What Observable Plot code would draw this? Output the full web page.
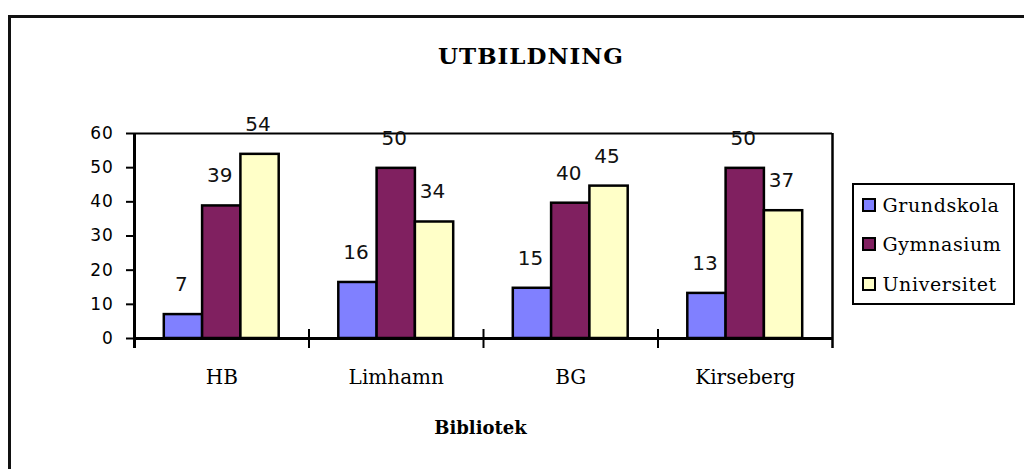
<!DOCTYPE html>
<html><head><meta charset="utf-8">
<script src="https://cdn.jsdelivr.net/npm/d3@7"></script>
<script src="https://cdn.jsdelivr.net/npm/@observablehq/plot@0.6"></script>
<style>
html,body{margin:0;padding:0;background:#fff;overflow:hidden;width:1024px;height:469px}
#wrap{position:relative;width:1024px;height:469px;overflow:hidden}
#border{position:absolute;left:8px;top:15px;width:1100px;height:600px;border-left:3px solid #111;border-top:3px solid #111;box-sizing:border-box}
#chart{position:absolute;left:0;top:0}
#title{position:absolute;left:438px;top:44px;white-space:nowrap;font:bold 23px "DejaVu Serif";letter-spacing:1px;line-height:23px;color:#000}
#legend{position:absolute;left:852px;top:183px;width:163px;height:122px;border:2.5px solid #000;box-sizing:border-box;background:#fff}
.item{position:absolute;left:7.5px;height:14px;display:flex;align-items:center;font:19px "DejaVu Serif";letter-spacing:0.6px;color:#000;white-space:nowrap}
.sw{width:14px;height:14px;border:2px solid #000;box-sizing:border-box;margin-right:7px;flex:none}
g[aria-label="y-axis tick label"] text{letter-spacing:0.8px}
g[aria-label="y-axis tick"] path, g[aria-label="y-axis"] line{stroke-width:2px}
</style>
</head><body>
<div id="wrap">
  <div id="border"></div>
  <div id="chart"></div>
  <div id="title"></div>
  <div id="legend"></div>
</div>
<script>
// ---- data ----
const titleText = "UTBILDNING";
const xTitle = "Bibliotek";
const categories = ["HB", "Limhamn", "BG", "Kirseberg"];
const series = ["Grundskola", "Gymnasium", "Universitet"];
const colors = ["#8080FF", "#802060", "#FFFFC8"];
const grundskola = [7, 16.4, 14.7, 13.2];
const gymnasium = [38.8, 49.8, 39.6, 49.8];
const universitet = [53.9, 34.1, 44.6, 37.4];
const yTicks = [0, 10, 20, 30, 40, 50, 60];

const valuesBySeries = [grundskola, gymnasium, universitet];
const rows = categories.flatMap((c, ci) =>
  series.map((s, si) => ({category: c, series: s, value: valuesBySeries[si][ci]})));

// ---- layout ----
const W = 1024, H = 469, mL = 134, mR = 192, mT = 133, mB = 131;
const bandW = (W - mL - mR) / categories.length;
const barW = 38.3;
const groupPad = (bandW - barW * series.length) / 2;

const marks = [];
series.forEach((s, si) => {
  const left = groupPad + si * barW;
  marks.push(Plot.barY(rows.filter(d => d.series === s), {
    x: "category", y: "value", fill: colors[si], stroke: "#000", strokeWidth: 2.5,
    insetLeft: left, insetRight: bandW - left - barW
  }));
});
marks.push(Plot.ruleY([60], {y: d => d, strokeWidth: 2}));
marks.push(Plot.ruleY([0], {y: d => d, strokeWidth: 3}));
marks.push(Plot.ruleX([categories[0]], {x: d => d, dx: -bandW / 2, y1: () => 60, y2: () => 0, insetBottom: -10, strokeWidth: 3}));
marks.push(Plot.ruleX([categories[categories.length - 1]], {x: d => d, dx: bandW / 2, y1: () => 60, y2: () => 0, insetBottom: -10, strokeWidth: 2.5}));
marks.push(Plot.ruleX(categories.slice(1), {x: d => d, dx: -bandW / 2, y1: () => 0, y2: () => 0, insetTop: -9, insetBottom: -10, strokeWidth: 2}));
series.forEach((s, si) => {
  marks.push(Plot.text(rows.filter(d => d.series === s), {
    x: "category", y: "value", text: d => String(Math.round(d.value)),
    dx: (si - 1) * barW - 2, dy: -30, fontSize: 20, fontFamily: "DejaVu Sans", fill: "#111"
  }));
});
marks.push(Plot.text(categories, {x: d => d, text: d => d, frameAnchor: "bottom", dy: 45, fontSize: 20, fontFamily: "DejaVu Serif", fill: "#000"}));
marks.push(Plot.text([xTitle], {text: d => d, frameAnchor: "bottom", dy: 95, dx: -3, fontSize: 18, fontWeight: "bold", fontFamily: "DejaVu Serif", fill: "#000"}));

const chart = Plot.plot({
  width: W, height: H,
  marginLeft: mL, marginRight: mR, marginTop: mT, marginBottom: mB,
  style: {fontFamily: "DejaVu Sans", fontSize: "17px", background: "transparent", color: "#000", overflow: "visible"},
  x: {type: "band", domain: categories, padding: 0, round: false, axis: null},
  y: {domain: [0, 60], ticks: yTicks, tickSize: 8, tickPadding: 13, label: null, tickFormat: d => String(d)},
  marks
});
document.getElementById("chart").appendChild(chart);

document.getElementById("title").textContent = titleText;
const legend = document.getElementById("legend");
const rowTops = [12.5, 52, 91.5];
series.forEach((s, si) => {
  const it = document.createElement("div");
  it.className = "item";
  it.style.top = rowTops[si] + "px";
  const sw = document.createElement("span");
  sw.className = "sw";
  sw.style.background = colors[si];
  const tx = document.createElement("span");
  tx.textContent = s;
  it.appendChild(sw); it.appendChild(tx);
  legend.appendChild(it);
});
</script>
</body></html>
